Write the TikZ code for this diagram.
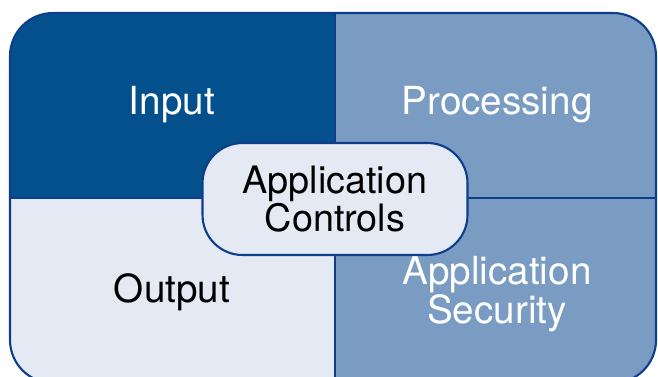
\documentclass[tikz,border=0pt]{standalone}
\usepackage{fontspec}
\setmainfont{TeX Gyre Heros}
\usetikzlibrary{positioning}
\definecolor{deepblue}{HTML}{03508C}
\definecolor{softblue}{HTML}{7A9CC2}
\definecolor{paleblue}{HTML}{E4E9F3}
\definecolor{edgeblue}{HTML}{0C3E8C}

\begin{document}
\begin{tikzpicture}[x=0.02cm,y=-0.02cm,
    quadtext/.style={font=\fontsize{22}{20}\selectfont, align=center},
    ctrlbox/.style={draw=edgeblue, line width=1.2pt, fill=paleblue, rounded corners=0.8cm,
      minimum width=5.3cm, minimum height=2.24cm, align=center,
      font=\fontsize{21.5}{18.8}\selectfont}]
  \useasboundingbox (0,0) rectangle (658,376);
  % quadrants
  \begin{scope}
    \clip[rounded corners=0.86cm] (10,13) rectangle (656,383);
    \fill[deepblue] (10,13) rectangle (335,198);
    \fill[softblue] (335,13) rectangle (656,198);
    \fill[paleblue] (10,198) rectangle (335,383);
    \fill[softblue] (335,198) rectangle (656,383);
  \end{scope}
  \draw[edgeblue, line width=0.8pt] (335,13) -- (335,383);
  \draw[edgeblue, line width=0.8pt] (10,198) -- (656,198);
  \draw[edgeblue, line width=1.2pt, rounded corners=0.86cm] (10,13) rectangle (656,383);
  % labels
  \node[quadtext, white] (input) at (172,105) {Input};
  \node[quadtext, white] (processing) at (497,105) {Processing};
  \node[quadtext] (output) at (172,292) {Output};
  \node[quadtext, white] (security) at (497,294) {Application\\Security};
  \node[ctrlbox] (controls) at (335,199) {Application\\Controls};
\end{tikzpicture}
\end{document}
